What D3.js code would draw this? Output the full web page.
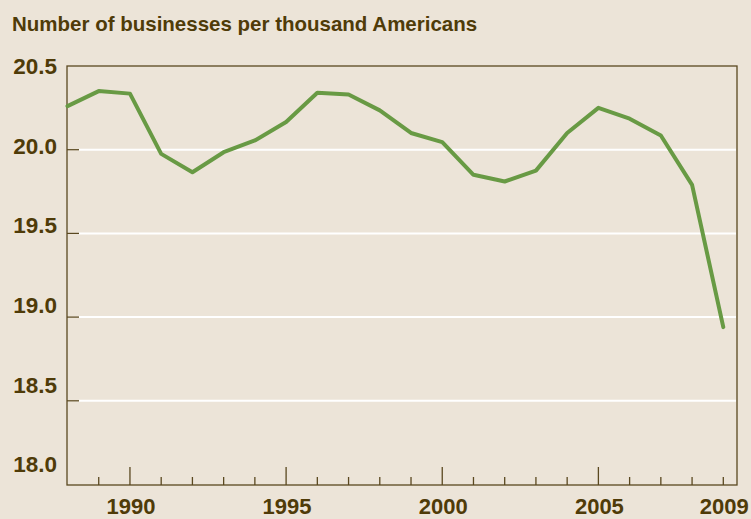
<!DOCTYPE html>
<html>
<head>
<meta charset="utf-8">
<script src="https://cdn.jsdelivr.net/npm/d3@7"></script>
<style>
  html, body { margin: 0; padding: 0; background: #ece4d8; }
  svg { display: block; }
  text { font-family: "Liberation Sans", Arial, sans-serif; font-weight: bold; fill: #4f3b08; }
</style>
</head>
<body>
<div id="container"></div>
<script>
/* DATA */
const years = d3.range(1988, 2010);
const businesses = [20.26, 20.35, 20.335, 19.975, 19.865, 19.985, 20.055, 20.165, 20.34, 20.33,
                    20.235, 20.10, 20.045, 19.85, 19.81, 19.875, 20.10, 20.25, 20.185, 20.085,
                    19.79, 18.94];
const yTicks = [18.0, 18.5, 19.0, 19.5, 20.0, 20.5];
const majorYears = [1990, 1995, 2000, 2005];
const labelYears = [1990, 1995, 2000, 2005, 2009];
const title = "Number of businesses per thousand Americans";

/* CONSTANTS */
const width = 751, height = 519;
const box = {left: 67, right: 737, top: 66, bottom: 485};
const frameColor = "#5a4820", lineColor = "#689a44";

const data = years.map((y, i) => ({year: y, value: businesses[i]}));

// scales
const xScale = d3.scaleLinear().domain([1988, 2009]).range([67.5, 723.3]);
const yScale = d3.scaleLinear().domain([18, 20.5]).range([484.5, 66]);
// the labels on the original sit on a slightly tighter spacing than the gridlines
const yLabelScale = d3.scaleLinear().domain([18, 20.5]).range([464, 66]);

const svg = d3.select("#container").append("svg")
  .attr("width", width)
  .attr("height", height);

svg.append("rect").attr("width", width).attr("height", height).attr("fill", "#ece4d8");

// title
svg.append("text")
  .attr("x", 12).attr("y", 30.5)
  .attr("font-size", "20.5px")
  .text(title);

// white gridlines + little dark ticks
const gridTicks = yTicks.filter(d => d > 18 && d < 20.5);
svg.selectAll("line.grid")
  .data(gridTicks)
  .join("line")
  .attr("class", "grid")
  .attr("x1", box.left + 12).attr("x2", box.right - 1)
  .attr("y1", d => yScale(d)).attr("y2", d => yScale(d))
  .attr("stroke", "#ffffff").attr("stroke-width", 2);

svg.selectAll("line.ytick")
  .data(gridTicks)
  .join("line")
  .attr("class", "ytick")
  .attr("x1", box.left).attr("x2", box.left + 12)
  .attr("y1", d => yScale(d)).attr("y2", d => yScale(d))
  .attr("stroke", frameColor).attr("stroke-width", 1.2);

// y labels
svg.selectAll("text.ylab")
  .data(yTicks)
  .join("text")
  .attr("class", "ylab")
  .attr("x", 57)
  .attr("y", d => yLabelScale(d))
  .attr("dy", "0.36em")
  .attr("text-anchor", "end")
  .attr("font-size", "22.5px")
  .text(d => d3.format(".1f")(d));

// x ticks (pointing inward)
const tickYears = years.filter(y => y > 1988);
svg.selectAll("line.xtick")
  .data(tickYears)
  .join("line")
  .attr("class", "xtick")
  .attr("x1", d => xScale(d)).attr("x2", d => xScale(d))
  .attr("y1", box.bottom)
  .attr("y2", d => box.bottom - (majorYears.includes(d) ? 18 : 8))
  .attr("stroke", frameColor).attr("stroke-width", 1.3);

// x labels
svg.selectAll("text.xlab")
  .data(labelYears)
  .join("text")
  .attr("class", "xlab")
  .attr("x", d => xScale(d) + 1)
  .attr("y", 514)
  .attr("text-anchor", "middle")
  .attr("font-size", "22px")
  .text(d => d);

// frame
svg.append("rect")
  .attr("x", box.left).attr("y", box.top)
  .attr("width", box.right - box.left).attr("height", box.bottom - box.top)
  .attr("fill", "none").attr("stroke", frameColor).attr("stroke-width", 1.3);

// the line
const line = d3.line()
  .x(d => xScale(d.year))
  .y(d => yScale(d.value));

svg.append("path")
  .datum(data)
  .attr("d", line)
  .attr("fill", "none")
  .attr("stroke", lineColor)
  .attr("stroke-width", 4)
  .attr("stroke-linejoin", "round")
  .attr("stroke-linecap", "round");
</script>
</body>
</html>
